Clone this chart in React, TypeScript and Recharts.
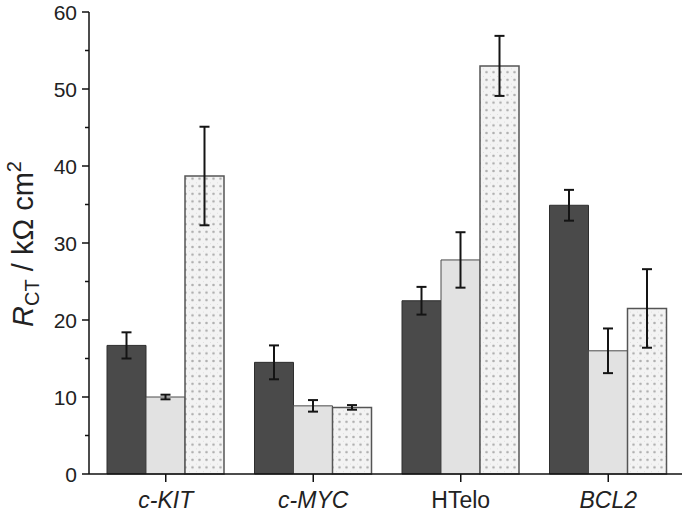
import React from "react";
import { BarChart, Bar, XAxis, YAxis, ErrorBar } from "recharts";

const CATEGORIES = ["c-KIT", "c-MYC", "HTelo", "BCL2"];
const ITALIC = [true, true, false, true];
const DARK = [16.7, 14.5, 22.5, 34.9];
const DARK_ERR = [1.7, 2.2, 1.8, 2.0];
const LIGHT = [10.0, 8.85, 27.8, 16.0];
const LIGHT_ERR = [0.3, 0.75, 3.6, 2.9];
const DOTTED = [38.7, 8.65, 53.0, 21.5];
const DOTTED_ERR = [6.4, 0.3, 3.9, 5.1];
const Y_TICKS = [0, 5, 10, 15, 20, 25, 30, 35, 40, 45, 50, 55, 60];

const FONT = "'Liberation Sans', Arial, sans-serif";

const data = CATEGORIES.map((name, i) => ({
  name,
  dark: DARK[i],
  darkErr: DARK_ERR[i],
  light: LIGHT[i],
  lightErr: LIGHT_ERR[i],
  dotted: DOTTED[i],
  dottedErr: DOTTED_ERR[i],
}));

const YTick = (props: any) => {
  const { x, y, payload } = props;
  const major = payload.value % 10 === 0;
  return (
    <g>
      <line x1={x - (major ? 7 : 4)} x2={x} y1={y} y2={y} stroke="#111" strokeWidth={1.5} />
      {major && (
        <text x={x - 12} y={y} dy="0.36em" textAnchor="end" fontFamily={FONT} fontSize={21} fill="#222">
          {payload.value}
        </text>
      )}
    </g>
  );
};

const XTick = (props: any) => {
  const { x, y, payload, index } = props;
  return (
    <text
      x={x}
      y={y + 24}
      textAnchor="middle"
      fontFamily={FONT}
      fontSize={23}
      fontStyle={ITALIC[index] ? "italic" : "normal"}
      fill="#222"
    >
      {payload.value}
    </text>
  );
};

export default function App() {
  return (
    <div style={{ position: "absolute", left: 0, top: 0, width: 685, height: 513, background: "#fff" }}>
      <svg width={0} height={0} style={{ position: "absolute" }}>
        <defs>
          <pattern id="dots" width={7} height={7.6} patternUnits="userSpaceOnUse">
            <rect width={7} height={7.6} fill="#f3f3f3" />
            <circle cx={3.5} cy={3.8} r={1.3} fill="#b0b0b0" />
            <circle cx={0} cy={0} r={0.9} fill="#d4d4d4" />
          </pattern>
        </defs>
      </svg>
      <BarChart
        width={685}
        height={513}
        data={data}
        margin={{ top: 12, right: 3, left: 0, bottom: 0 }}
        barGap={0}
        barSize={39}
      >
        <XAxis
          dataKey="name"
          height={39}
          padding={{ left: 3, right: 0 }}
          axisLine={{ stroke: "#111", strokeWidth: 1.5 }}
          tickLine={{ stroke: "#111", strokeWidth: 1.5 }}
          tickSize={8}
          tick={<XTick />}
          interval={0}
        />
        <YAxis
          width={89}
          domain={[0, 60]}
          ticks={Y_TICKS}
          interval={0}
          axisLine={{ stroke: "#111", strokeWidth: 1.5 }}
          tickLine={false}
          tickSize={0}
          tickMargin={0}
          tick={<YTick />}
        />
        <Bar dataKey="dark" fill="#4a4a4a" stroke="#2e2e2e" strokeWidth={1} isAnimationActive={false}>
          <ErrorBar dataKey="darkErr" width={5} stroke="#141414" strokeWidth={2} direction="y" />
        </Bar>
        <Bar dataKey="light" fill="#e2e2e2" stroke="#4a4a4a" strokeWidth={1} isAnimationActive={false}>
          <ErrorBar dataKey="lightErr" width={5} stroke="#141414" strokeWidth={2} direction="y" />
        </Bar>
        <Bar dataKey="dotted" fill="url(#dots)" stroke="#555" strokeWidth={1.5} isAnimationActive={false}>
          <ErrorBar dataKey="dottedErr" width={5} stroke="#141414" strokeWidth={2} direction="y" />
        </Bar>
      </BarChart>
      <svg width={685} height={513} style={{ position: "absolute", left: 0, top: 0, pointerEvents: "none" }}>
        <text transform="translate(33,244) rotate(-90)" textAnchor="middle" fontFamily={FONT} fontSize={29} fill="#222">
          <tspan fontStyle="italic">R</tspan>
          <tspan fontSize={20} dy={6}>CT</tspan>
          <tspan dy={-6}> / kΩ cm</tspan>
          <tspan fontSize={20} dy={-12}>2</tspan>
        </text>
      </svg>
    </div>
  );
}
